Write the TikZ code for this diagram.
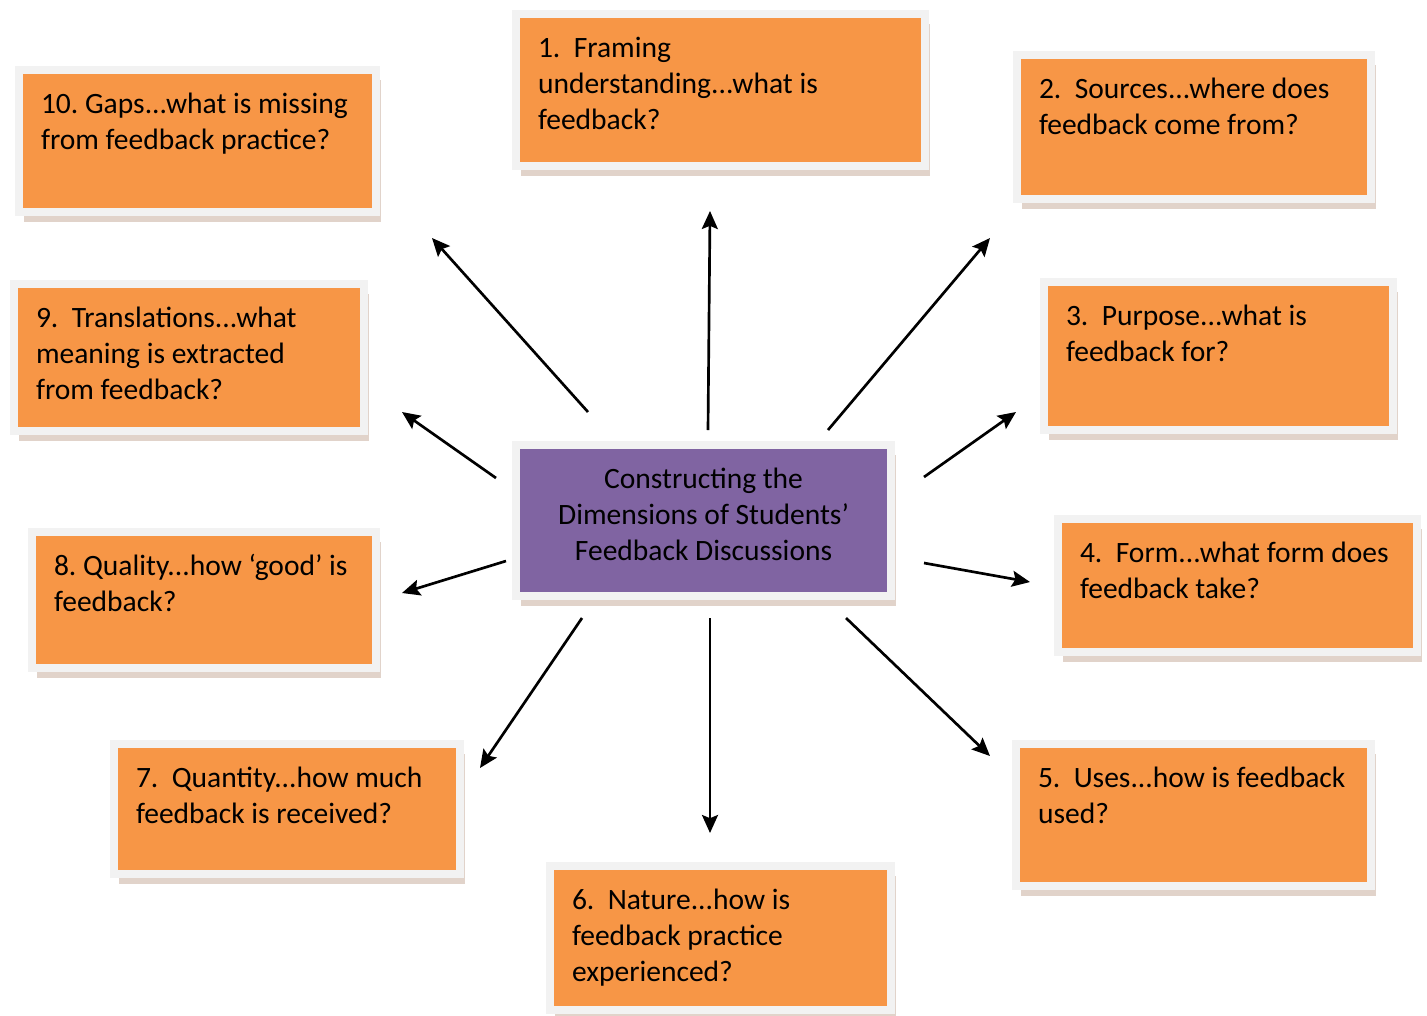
\documentclass[tikz,border=0pt]{standalone}
\usepackage{fontspec}
\setmainfont{Carlito}
\usepackage{xcolor}
\usetikzlibrary{
	arrows.meta,
	shadows
}
\definecolor{boxorange}{HTML}{F79646}
\definecolor{boxpurple}{HTML}{8064A2}
\definecolor{boxrim}{HTML}{F2F2F2}
\definecolor{boxshade}{RGB}{196,168,150}
\frenchspacing
\newcommand{\qtext}[3]{\parbox[t][#2][t]{#1}{\raggedright\strut #3}}

\begin{document}
\begin{tikzpicture}[>={Stealth[length=0.45cm,width=0.4cm,inset=0.08cm]},
	x=0.025cm, y=-0.025cm,
	qbox/.style={rectangle, anchor=north west, fill=boxorange, draw=boxrim,
		line width=0.2cm, outer sep=0pt, inner xsep=0.55cm, inner ysep=0.445cm,
		font=\fontsize{21}{25.6}\selectfont,
		drop shadow={shadow xshift=0.12cm, shadow yshift=-0.24cm,
			fill=boxshade, opacity=0.5}},
	hub/.style={qbox, fill=boxpurple},
	spoke/.style={->, line width=1.9pt}]
	
	\useasboundingbox (0,0) rectangle (1427,1015);
	
	% centre
	\node[hub] (c) at (516,445)
	{\parbox[t][2.885cm][t]{8.275cm}{\centering\strut Constructing the\\
			Dimensions of Students’\\ Feedback Discussions}};
	
	% dimensions
	\node[qbox] (q1) at (516,14)
	{\qtext{9.125cm}{2.91cm}{1.~~Framing\\ understanding...what is\\ feedback?}};
	\node[qbox] (q2) at (1017,55)
	{\qtext{7.75cm}{2.71cm}{2.~~Sources...where does\\ feedback come from?}};
	\node[qbox] (q3) at (1044,282)
	{\qtext{7.625cm}{2.81cm}{3.~~Purpose...what is\\ feedback for?}};
	\node[qbox] (q4) at (1058,519)
	{\qtext{7.875cm}{2.435cm}{4.~~Form...what form does\\ feedback take?}};
	\node[qbox] (q5) at (1016,744)
	{\qtext{7.775cm}{2.66cm}{5.~~Uses...how is feedback\\ used?}};
	\node[qbox] (q6) at (550,866)
	{\qtext{7.425cm}{2.71cm}{6.~~Nature...how is\\ feedback practice\\ experienced?}};
	\node[qbox] (q7) at (114,744)
	{\qtext{7.55cm}{2.36cm}{7.~~Quantity...how much\\ feedback is received?}};
	\node[qbox] (q8) at (32,532)
	{\qtext{7.5cm}{2.51cm}{8. Quality...how ‘good’ is\\ feedback?}};
	\node[qbox] (q9) at (14,284)
	{\qtext{7.65cm}{2.785cm}{9.~~Translations...what\\ meaning is extracted\\ from feedback?}};
	\node[qbox] (q10) at (19,70)
	{\qtext{7.825cm}{2.66cm}{10. Gaps...what is missing\\ from feedback practice?}};
	
	% arrow ends
	\coordinate (a1) at (708,430);  \coordinate (b1) at (710,211);
	\coordinate (a2) at (828,430);  \coordinate (b2) at (990,238);
	\coordinate (a3) at (924,477);  \coordinate (b3) at (1016,412);
	\coordinate (a4) at (924,563);  \coordinate (b4) at (1030,582);
	\coordinate (a5) at (846,618);  \coordinate (b5) at (990,756);
	\coordinate (a6) at (710,618);  \coordinate (b6) at (710,833);
	\coordinate (a7) at (582,618);  \coordinate (b7) at (480,768);
	\coordinate (a8) at (506,561);  \coordinate (b8) at (402,593);
	\coordinate (a9) at (496,478);  \coordinate (b9) at (402,412);
	\coordinate (a10) at (588,412); \coordinate (b10) at (432,238);
	
	\draw[spoke] (a1)--(b1);
	\draw[spoke] (a2)--(b2);
	\draw[spoke] (a3)--(b3);
	\draw[spoke] (a4)--(b4);
	\draw[spoke] (a5)--(b5);
	\draw[spoke] (a6)--(b6);
	\draw[spoke] (a7)--(b7);
	\draw[spoke] (a8)--(b8);
	\draw[spoke] (a9)--(b9);
	\draw[spoke] (a10)--(b10);
	
\end{tikzpicture}
\end{document}
